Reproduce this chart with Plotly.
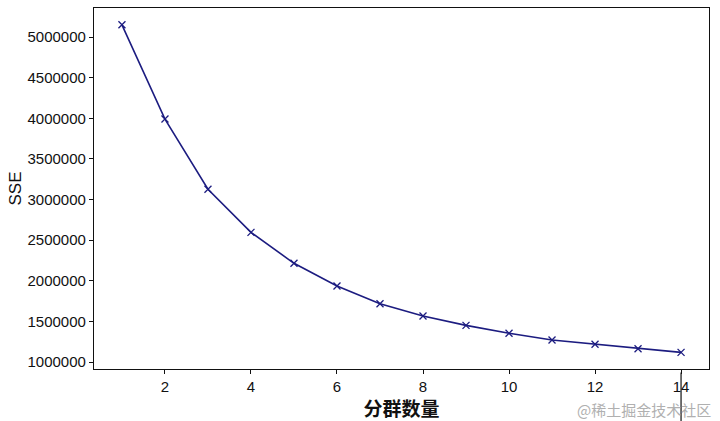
import plotly.graph_objects as go

k_values = [1, 2, 3, 4, 5, 6, 7, 8, 9, 10, 11, 12, 13, 14]
sse_values = [5150000, 3990000, 3126000, 2596000, 2215000, 1935000, 1718000,
              1566000, 1451000, 1353000, 1271000, 1218000, 1164000, 1119000]
x_ticks = [2, 4, 6, 8, 10, 12, 14]
y_ticks = [1000000, 1500000, 2000000, 2500000, 3000000, 3500000, 4000000, 4500000, 5000000]

line_color = "#1c1c80"
tick_font = dict(family="Liberation Sans, Arial, sans-serif", size=15, color="#111")

fig = go.Figure()
fig.add_trace(go.Scatter(
    x=k_values, y=sse_values, mode="lines+markers",
    line=dict(color=line_color, width=1.6),
    marker=dict(symbol="x-thin", size=7, line=dict(color=line_color, width=1.3)),
    showlegend=False,
))

fig.update_layout(
    width=720, height=421,
    margin=dict(l=94, r=11, t=8, b=52),
    paper_bgcolor="white", plot_bgcolor="white",
    xaxis=dict(
        range=[0.35, 14.65], tickvals=x_ticks, ticktext=[str(v) for v in x_ticks],
        ticks="outside", ticklen=4, tickwidth=1, tickcolor="#111",
        showline=True, linecolor="#111", linewidth=1.2, mirror=True,
        showgrid=False, zeroline=False, tickfont=tick_font,
        title=dict(text="<b>分群数量</b>", font=dict(family="Noto Sans CJK SC", size=19, color="#111"), standoff=0),
    ),
    yaxis=dict(
        range=[914000, 5357000], tickvals=y_ticks, ticktext=[str(v) for v in y_ticks],
        ticks="outside", ticklen=4, tickwidth=1, tickcolor="#111",
        showline=True, linecolor="#111", linewidth=1.2, mirror=True,
        showgrid=False, zeroline=False, tickfont=tick_font,
        title=dict(text="SSE", font=dict(family="Liberation Sans, Arial, sans-serif", size=17, color="#111"), standoff=1),
    ),
)

fig.add_annotation(
    text="@稀土掘金技术社区", xref="paper", yref="paper", x=1.0, y=0, xanchor="right",
    yanchor="top", yshift=-28, xshift=4, showarrow=False,
    font=dict(family="Noto Sans CJK SC", size=15, color="#b0b0b0"),
)

fig.add_shape(type="line", xref="x", yref="paper", x0=14, x1=14, y0=-0.01, y1=-0.15,
              line=dict(color="#111", width=1.2))

fig.write_html("out.html", config={"displayModeBar": False},
               post_script="document.body.style.margin='0';")
